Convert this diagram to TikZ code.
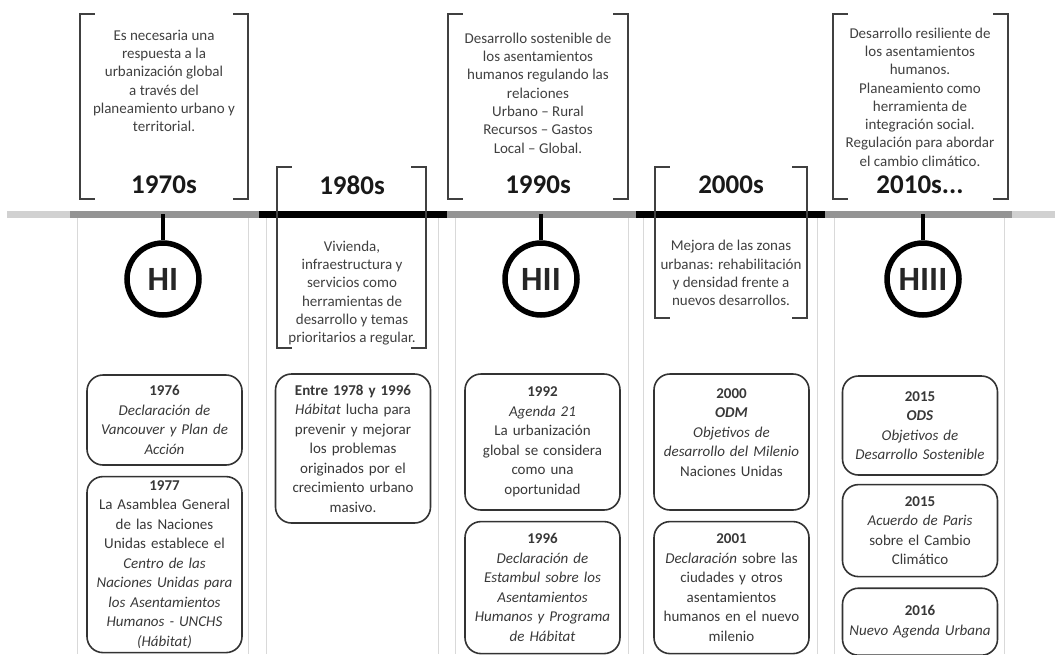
\documentclass[tikz,border=0pt]{standalone}
\usepackage{fontspec}
\setmainfont{Carlito}
\usetikzlibrary{positioning}

\tikzstyle{marco} = [rectangle, inner sep=0pt]
\tikzstyle{corchete} = [line width=1.8pt, draw=black!75]
\tikzstyle{decada} = [font=\fontsize{27}{29}\selectfont\bfseries, text=black!90]
\tikzstyle{lema} = [align=center, text=black!75, font=\fontsize{15}{18.3}\selectfont]
\tikzstyle{hito} = [circle, draw=black, line width=5.5pt, minimum size=72pt, inner sep=0pt, font=\fontsize{34}{36}\selectfont\bfseries, text=black!85]
\tikzstyle{tallo} = [line width=4pt]
\tikzstyle{barra} = [line width=7pt]
\tikzstyle{columna} = [line width=1pt, draw=black!15]
\tikzstyle{evento} = [rectangle, rounded corners=16pt, draw=black!80, line width=1.6pt, text width=149pt, inner sep=3pt, align=center, text=black!78, font=\fontsize{15}{19.5}\selectfont]

\begin{document}
\begin{tikzpicture}[x=1pt, y=-1pt]
        \useasboundingbox (0,0) rectangle (1062,654);

        % columnas
        \foreach \xa/\xb in {77/248, 266/438, 455/628, 643/817, 834/1004} {
            \draw[columna] (\xa,218) -- (\xa,654);
            \draw[columna] (\xb,218) -- (\xb,654);
        }

        % linea de tiempo
        \foreach \xa/\xb/\tono in {7/70/black!18, 70/259/black!42, 259/447/black, 447/636/black!42, 636/825/black, 825/1012/black!42, 1012/1055/black!18}
            \draw[barra, \tono] (\xa,214) -- (\xb,214);

        % marcos de las decadas
        \node (m70) [marco, minimum width=168pt, minimum height=185pt] at (164,106.5) {};
        \node (m80) [marco, minimum width=149pt, minimum height=181pt] at (351.5,257.5) {};
        \node (m90) [marco, minimum width=180pt, minimum height=185pt] at (538,106.5) {};
        \node (m00) [marco, minimum width=152pt, minimum height=151pt] at (731,242.5) {};
        \node (m10) [marco, minimum width=175pt, minimum height=185pt] at (920.5,106.5) {};

        \foreach \m in {m70,m80,m90,m00,m10} {
            \draw[corchete] ([xshift=15pt]\m.north west) -- (\m.north west) -- (\m.south west) -- ([xshift=15pt]\m.south west);
            \draw[corchete] ([xshift=-15pt]\m.north east) -- (\m.north east) -- (\m.south east) -- ([xshift=-15pt]\m.south east);
        }

        \node (d70) [decada] at (164,185) {1970s};
        \node (d80) [decada] at (352,185) {1980s};
        \node (d90) [decada] at (538,185) {1990s};
        \node (d00) [decada] at (731,185) {2000s};
        \node (d10) [decada] at (920,185) {2010s...};

        \node (t70) [lema] at (164,81) {Es necesaria una\\respuesta a la\\urbanización global\\a través del\\planeamiento urbano y\\territorial.};
        \node (t80) [lema] at (352,293) {Vivienda,\\infraestructura y\\servicios como\\herramientas de\\desarrollo y temas\\prioritarios a regular.};
        \node (t90) [lema] at (538,93) {Desarrollo sostenible de\\los asentamientos\\humanos regulando las\\relaciones\\Urbano -- Rural\\Recursos -- Gastos\\Local -- Global.};
        \node (t00) [lema] at (731,273) {Mejora de las zonas\\urbanas: rehabilitación\\y densidad frente a\\nuevos desarrollos.};
        \node (t10) [lema] at (920,97) {Desarrollo resiliente de\\los asentamientos\\humanos.\\Planeamiento como\\herramienta de\\integración social.\\Regulación para abordar\\el cambio climático.};

        % hitos
        \node (h1) [hito] at (163,279) {HI};
        \node (h2) [hito] at (541,279) {HII};
        \node (h3) [hito] at (923,279) {HIII};
        \coordinate (s1) at (163,214);
        \coordinate (s2) at (541,214);
        \coordinate (s3) at (923,214);
        \draw [tallo] (s1) -- (h1);
        \draw [tallo] (s2) -- (h2);
        \draw [tallo] (s3) -- (h3);

        % acontecimientos
        \node (v76) [evento, minimum height=90pt] at (164.5,420) {\textbf{1976}\\{\itshape Declaración de\\Vancouver y Plan de\\Acción}};
        \node (v77) [evento, minimum height=176pt, below=10pt of v76] {\textbf{1977}\\La Asamblea General\\de las Naciones\\Unidas establece el\\{\itshape Centro de las\\Naciones Unidas para\\los Asentamientos\\Humanos - UNCHS\\(Hábitat)}};

        \node (v78) [evento, minimum height=149pt] at (353,448.5) {\textbf{Entre 1978 y 1996}\\\textit{Hábitat} lucha para\\prevenir y mejorar\\los problemas\\originados por el\\crecimiento urbano\\masivo.};

        \node (v92) [evento, minimum height=136pt] at (542.5,442) {\textbf{1992}\\\textit{Agenda 21}\\La urbanización\\global se considera\\como una\\oportunidad};
        \node (v96) [evento, minimum height=132pt, below=10pt of v92] {\textbf{1996}\\{\itshape Declaración de\\Estambul sobre los\\Asentamientos\\Humanos y Programa\\de Hábitat}};

        \node (v00) [evento, minimum height=136pt] at (731.5,442) {\textbf{2000}\\\textbf{\textit{ODM}}\\{\itshape Objetivos de\\desarrollo del Milenio}\\Naciones Unidas\\\mbox{}};
        \node (v01) [evento, minimum height=132pt, below=10pt of v00] {\textbf{2001}\\\textit{Declaración} sobre las\\ciudades y otros\\asentamientos\\humanos en el nuevo\\milenio};

        \node (v15a) [evento, minimum height=99pt] at (920,425.5) {\textbf{2015}\\\textbf{\textit{ODS}}\\{\itshape Objetivos de\\Desarrollo Sostenible}};
        \node (v15b) [evento, minimum height=92pt, below=8pt of v15a] {\textbf{2015}\\\textit{Acuerdo de Paris}\\sobre el Cambio\\Climático};
        \node (v16) [evento, minimum height=67pt, below=10pt of v15b] {\textbf{2016}\\\textit{Nuevo Agenda Urbana}};

\end{tikzpicture}
\end{document}
